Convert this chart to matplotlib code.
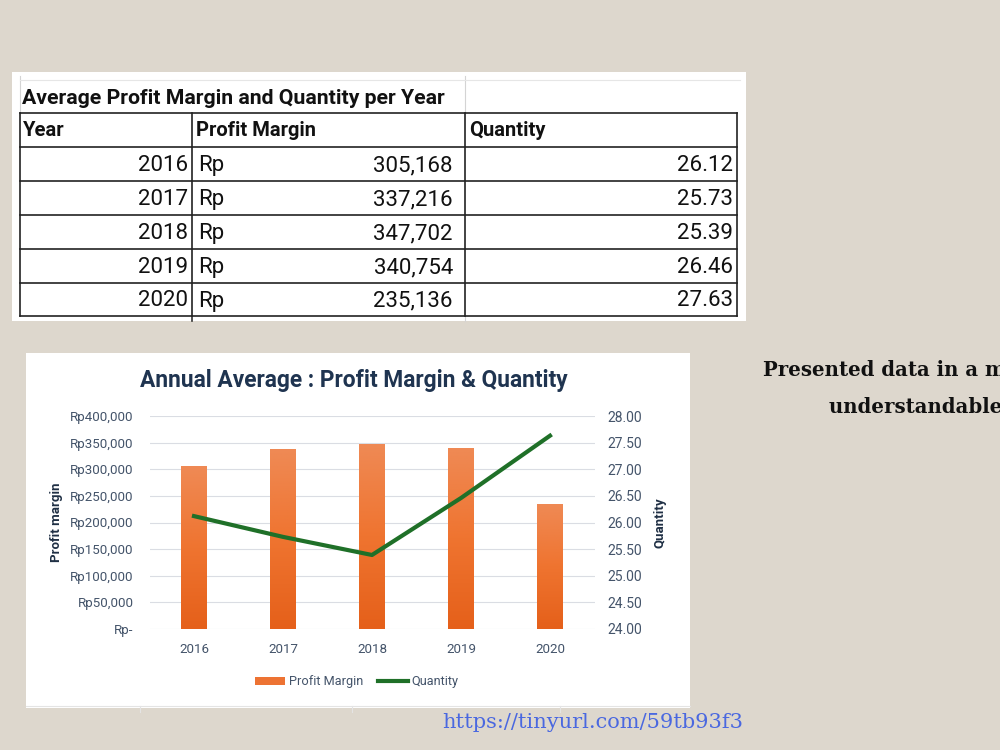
#importing libraries
import numpy as np
import matplotlib.pyplot as plt
from matplotlib.patches import Rectangle, Patch
from matplotlib.lines import Line2D
from matplotlib.ticker import FuncFormatter
from matplotlib.colors import LinearSegmentedColormap

#data
years = ["2016", "2017", "2018", "2019", "2020"]
profit_margin = [305168, 337216, 347702, 340754, 235136]
quantity = [26.12, 25.73, 25.39, 26.46, 27.63]

table_title = "Average Profit Margin and Quantity per Year"
table_headers = ["Year", "Profit Margin", "Quantity"]
chart_title = "Annual Average : Profit Margin & Quantity"
side_lines = ["Presented data in a more", "understandable way"]
link = "https://tinyurl.com/59tb93f3"

sans = ["Roboto", "DejaVu Sans"]
slab = ["DejaVu Serif"]

bg = "#ddd7cd"
fig = plt.figure(figsize=(10, 7.5), dpi=100, facecolor=bg)

#full-figure axes in pixel coordinates for the slide pieces
page = fig.add_axes([0, 0, 1, 1])
page.set_xlim(0, 1000)
page.set_ylim(750, 0)
page.axis("off")

#table background
page.add_patch(Rectangle((12, 72), 734, 249, facecolor="white", edgecolor="none"))
#faint excel gridlines
for x in [20, 465]:
    page.plot([x, x], [76, 113], color="#d4d4d4", lw=0.8)
page.plot([20, 740], [80, 80], color="#e6e6e6", lw=0.8)
page.plot([192, 192], [316, 321], color="#333333", lw=1.2)
page.plot([465, 465], [316, 321], color="#d4d4d4", lw=0.8)

#table borders
row_lines = [113, 147, 181, 215, 249, 283, 316]
for y in row_lines:
    page.plot([20, 737], [y, y], color="#222222", lw=1.2)
for x in [20, 192, 465, 737]:
    page.plot([x, x], [113, 316], color="#222222", lw=1.2)

page.text(22, 98, table_title, fontsize=15.3, fontweight="bold", family=sans,
          color="#111111", va="center", ha="left")
for x, h in zip([23, 196, 469], table_headers):
    page.text(x, 131, h, fontsize=14.5, fontweight="bold", family=sans,
              color="#111111", va="center", ha="left")

for i in range(len(years)):
    yc = (row_lines[i + 1] + row_lines[i + 2]) / 2 + 1.5
    page.text(188, yc, years[i], fontsize=16, family=sans, color="#111111",
              va="center", ha="right")
    page.text(198, yc, "Rp", fontsize=16, family=sans, color="#111111",
              va="center", ha="left")
    page.text(453, yc, f"{profit_margin[i]:,}", fontsize=16, family=sans,
              color="#111111", va="center", ha="right")
    page.text(733, yc, f"{quantity[i]:.2f}", fontsize=16, family=sans,
              color="#111111", va="center", ha="right")

#chart background
page.add_patch(Rectangle((26, 353), 664, 355, facecolor="white", edgecolor="none"))
page.plot([26, 690], [706, 706], color="#e4e4e4", lw=0.8)
for x in [140, 352, 560]:
    page.plot([x, x], [706, 712], color="#e4e4e4", lw=0.8)

page.text(354, 381, chart_title, fontsize=16.4, fontweight="bold", family=sans,
          color="#1f3450", va="center", ha="center")

#side text and link (runs past the right edge like the slide)
page.text(763, 370, side_lines[0], fontsize=14.2, fontweight="bold", family=slab,
          color="#111111", va="center", ha="left")
page.text(829, 407, side_lines[1], fontsize=14.2, fontweight="bold", family=slab,
          color="#111111", va="center", ha="left")
page.text(442, 722, link, fontsize=15, family=slab, color="#4a68e0",
          va="center", ha="left")

#chart axes
ax = fig.add_axes([0.1495, 1 - 629 / 750, 0.445, (629 - 416) / 750])
ax.set_facecolor("white")
x = np.arange(len(years))
bars = ax.bar(x, profit_margin, width=0.29, color="none", zorder=2)
grad = np.linspace(0, 1, 256).reshape(-1, 1)
cmap = LinearSegmentedColormap.from_list("org", ["#e5601a", "#ef7430", "#ef8a55"])
for b in bars:
    im = ax.imshow(grad, cmap=cmap, aspect="auto", origin="lower",
                   extent=[b.get_x(), b.get_x() + b.get_width(), 0, b.get_height()],
                   zorder=2)
    im.set_clip_path(b)
ax.set_xlim(-0.5, 4.5)
ax.set_ylim(0, 400000)
ax.set_yticks(np.arange(0, 400001, 50000))
ax.yaxis.set_major_formatter(FuncFormatter(lambda v, p: "Rp-" if v == 0 else f"Rp{int(v):,}"))
ax.set_xticks(x)
ax.set_xticklabels(years)
ax.grid(axis="y", color="#dadde3", lw=0.8, zorder=0)
ax.set_axisbelow(True)
for s in ax.spines.values():
    s.set_visible(False)
ax.tick_params(length=0, labelsize=9.6, colors="#44546a", pad=11.5)
ax.tick_params(axis="x", pad=10)
for lab in ax.get_xticklabels() + ax.get_yticklabels():
    lab.set_family(sans)
ax.set_ylabel("Profit margin", fontsize=9.5, fontweight="bold", color="#1f2f44",
              family=sans, labelpad=5)

ax2 = ax.twinx()
ax2.plot(x, quantity, color="#1f7028", lw=3, zorder=3)
ax2.set_ylim(24, 28)
ax2.set_yticks(np.arange(24, 28.01, 0.5))
ax2.yaxis.set_major_formatter(FuncFormatter(lambda v, p: f"{v:.2f}"))
for s in ax2.spines.values():
    s.set_visible(False)
ax2.tick_params(length=0, labelsize=10, colors="#44546a", pad=9.5)
for lab in ax2.get_yticklabels():
    lab.set_family(sans)
ax2.set_ylabel("Quantity", fontsize=9.5, fontweight="bold", color="#1f2f44",
               family=sans, labelpad=8)

#legend
handles = [Patch(facecolor="#ed7333", edgecolor="none"),
           Line2D([0], [0], color="#1f7028", lw=3)]
fig.legend(handles, ["Profit Margin", "Quantity"], loc="center",
           bbox_to_anchor=(0.357, 1 - 682 / 750), ncol=2, frameon=False,
           prop={"family": sans, "size": 9.2}, handlelength=2.3,
           handleheight=0.6, columnspacing=1.2, handletextpad=0.3,
           labelcolor="#44546a")

plt.savefig("out.png", dpi=100, facecolor=bg)
